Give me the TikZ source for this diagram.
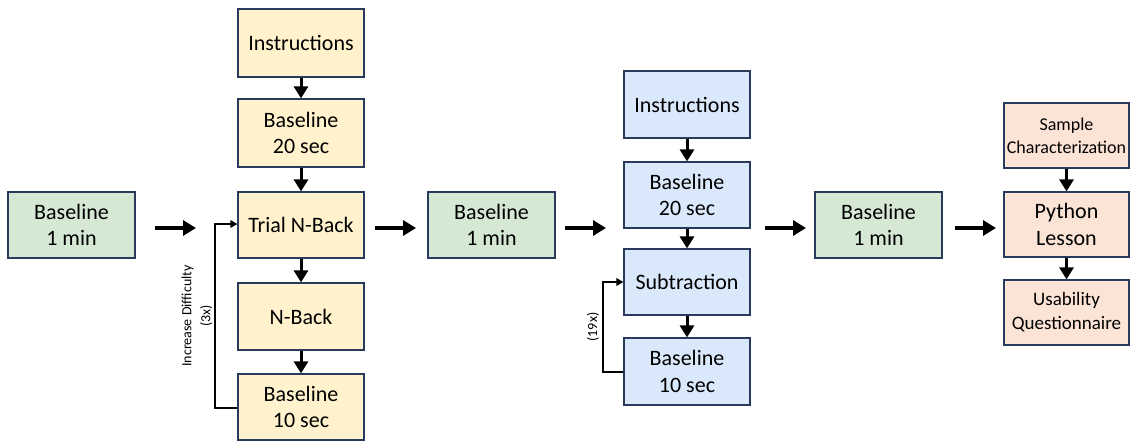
\documentclass[tikz,border=0pt]{standalone}
\usepackage{fontspec}
\setmainfont{Carlito}
\usetikzlibrary{arrows.meta,calc}

\definecolor{edgeblue}{HTML}{2A3A5C}
\definecolor{fillgreen}{HTML}{D5E8D4}
\definecolor{fillyellow}{HTML}{FFF2CC}
\definecolor{fillblue}{HTML}{DAE8FC}
\definecolor{fillorange}{HTML}{FBE3D6}

\tikzset{
  stagebox/.style={draw=edgeblue, line width=1.2pt, align=center, inner sep=2pt,
    font=\fontsize{22}{26.5}\selectfont, minimum width=126pt, minimum height=66pt},
  greenbox/.style={stagebox, fill=fillgreen, minimum width=127pt},
  yellowbox/.style={stagebox, fill=fillyellow},
  bluebox/.style={stagebox, fill=fillblue},
  orangebox/.style={stagebox, fill=fillorange, minimum width=125pt, minimum height=65pt},
  flowarrow/.style={line width=4pt, -{Triangle[length=13pt,width=15pt]}},
  steparrow/.style={line width=3pt, -{Triangle[length=12pt,width=14pt]}},
  looparrow/.style={line width=2pt, -{Triangle[length=7pt,width=7.5pt]}},
  looplabel/.style={rotate=90, font=\fontsize{14}{19}\selectfont, align=center, inner sep=0pt}
}

\begin{document}
\begin{tikzpicture}[x=1pt, y=-1pt]
\useasboundingbox (0,0) rectangle (1132,441);

% first rest period
\node[greenbox] (g1) at (71.5,225) {Baseline\\1 min};

% n-back block
\node[yellowbox, minimum height=68pt] (y1) at (301,43) {Instructions};
\node[yellowbox, minimum height=68pt] (y2) at (301,133) {Baseline\\20 sec};
\node[yellowbox] (y3) at (301,225) {Trial N-Back};
\node[yellowbox, minimum height=67pt] (y4) at (301,316.5) {N-Back};
\node[yellowbox] (y5) at (301,407) {Baseline\\10 sec};

% second rest period
\node[greenbox] (g2) at (491.5,225) {Baseline\\1 min};

% subtraction block
\node[bluebox, minimum height=67pt] (b1) at (687,104.5) {Instructions};
\node[bluebox] (b2) at (687,195) {Baseline\\20 sec};
\node[bluebox] (b3) at (687,282) {Subtraction};
\node[bluebox, minimum height=67pt] (b4) at (687,371.5) {Baseline\\10 sec};

% third rest period
\node[greenbox] (g3) at (878.5,225) {Baseline\\1 min};

% python block
\node[orangebox, font=\fontsize{18}{23}\selectfont] (o1) at (1066.5,135.5) {Sample\\Characterization};
\node[orangebox] (o2) at (1066.5,224.5) {Python\\Lesson};
\node[orangebox, font=\fontsize{19}{24}\selectfont] (o3) at (1066.5,312.5) {Usability\\Questionnaire};

% phase-to-phase arrows
\coordinate (a1s) at (155,228); \coordinate (a1e) at (196,228);
\coordinate (a2s) at (375,228); \coordinate (a2e) at (416,228);
\coordinate (a3s) at (565,228); \coordinate (a3e) at (606,228);
\coordinate (a4s) at (765,228); \coordinate (a4e) at (806,228);
\coordinate (a5s) at (955,228); \coordinate (a5e) at (996,228);
\draw[flowarrow] (a1s) -- (a1e);
\draw[flowarrow] (a2s) -- (a2e);
\draw[flowarrow] (a3s) -- (a3e);
\draw[flowarrow] (a4s) -- (a4e);
\draw[flowarrow] (a5s) -- (a5e);

% steps within each block
\draw[steparrow] (y1) -- (y2);
\draw[steparrow] (y2) -- (y3);
\draw[steparrow] (y3) -- (y4);
\draw[steparrow] (y4) -- (y5);
\draw[steparrow] (b1) -- (b2);
\draw[steparrow] (b2) -- (b3);
\draw[steparrow] (b3) -- (b4);
\draw[steparrow] (o1) -- (o2);
\draw[steparrow] (o2) -- (o3);

% repetition loops
\draw[looparrow] (y5.west |- 0,408) -| (215,224) -- (y3.west |- 0,224);
\node[looplabel] (l1) at (197,316) {Increase Difficulty\\(3x)};

\draw[looparrow] (b4.west |- 0,372) -| (603,282) -- (b3.west);
\node[looplabel] (l2) at (593,327) {(19x)};
\end{tikzpicture}
\end{document}
